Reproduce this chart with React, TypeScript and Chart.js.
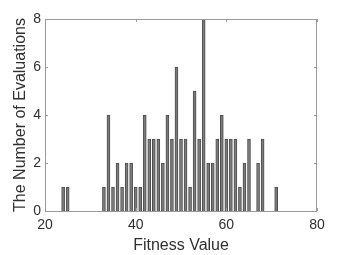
import React, { useEffect, useRef } from "react";
import { Chart, registerables } from "chart.js";

Chart.register(...registerables);

const fitnessValues = [24, 25, 33, 34, 35, 36, 37, 38, 39, 40, 41, 42, 43, 44, 45, 46, 47, 48, 49, 50, 51, 52, 53, 54, 55, 56, 57, 58, 59, 60, 61, 62, 63, 64, 65, 67, 68, 71];
const evaluationCounts = [1, 1, 1, 4, 1, 2, 1, 2, 2, 1, 1, 4, 3, 3, 3, 2, 4, 3, 6, 3, 3, 1, 5, 3, 8, 2, 2, 3, 4, 3, 3, 3, 1, 2, 3, 2, 3, 1];
const xTicks = [20, 40, 60, 80];
const yTicks = [0, 2, 4, 6, 8];

const FONT = "'Liberation Sans', Arial, Helvetica, sans-serif";
const TEXT = "#303030";
const BOX = "#9a9a9a";

const boxPlugin = {
  id: "matlabBox",
  afterDraw(chart: any) {
    const { ctx, chartArea } = chart;
    const { left, right, top, bottom } = chartArea;
    const xs = chart.scales.x;
    const ys = chart.scales.y;
    ctx.save();
    ctx.strokeStyle = BOX;
    ctx.lineWidth = 1;
    ctx.beginPath();
    ctx.rect(Math.round(left) + 0.5, Math.round(top) + 0.5, Math.round(right - left) - 1, Math.round(bottom - top));
    ctx.stroke();
    const tl = 3;
    ctx.beginPath();
    for (const v of xTicks) {
      const px = Math.round(xs.getPixelForValue(v)) + 0.5;
      ctx.moveTo(px, bottom);
      ctx.lineTo(px, bottom - tl);
      ctx.moveTo(px, top);
      ctx.lineTo(px, top + tl);
    }
    for (const v of yTicks) {
      const py = Math.round(ys.getPixelForValue(v)) + 0.5;
      ctx.moveTo(left, py);
      ctx.lineTo(left + tl, py);
      ctx.moveTo(right, py);
      ctx.lineTo(right - tl, py);
    }
    ctx.stroke();
    ctx.restore();
  },
};

export default function App() {
  const ref = useRef<HTMLCanvasElement | null>(null);
  useEffect(() => {
    document.body.style.margin = "0";
    const canvas = ref.current!;
    const chart = new Chart(canvas, {
      type: "bar",
      data: {
        datasets: [
          {
            data: fitnessValues.map((x, i) => ({ x, y: evaluationCounts[i] })),
            backgroundColor: "#7a7a7a",
            borderColor: "#4f4f4f",
            borderWidth: 1,
            barThickness: 3,
          },
        ],
      },
      options: {
        responsive: false,
        animation: false,
        events: [],
        layout: { padding: { top: 19, right: 34, left: 0, bottom: 0 } },
        plugins: { legend: { display: false }, tooltip: { enabled: false } },
        scales: {
          x: {
            type: "linear",
            min: 20,
            max: 80,
            offset: false,
            afterBuildTicks: (s: any) => {
              s.ticks = xTicks.map((v) => ({ value: v }));
            },
            afterFit: (s: any) => {
              s.height = 44;
            },
            grid: { display: false, drawTicks: false, offset: false },
            border: { display: false },
            ticks: { color: TEXT, font: { family: FONT, size: 14 }, padding: 6, maxRotation: 0 },
            title: {
              display: true,
              text: "Fitness Value",
              color: TEXT,
              font: { family: FONT, size: 16 },
              padding: { top: 0, bottom: 0 },
            },
          },
          y: {
            type: "linear",
            min: 0,
            max: 8,
            afterBuildTicks: (s: any) => {
              s.ticks = yTicks.map((v) => ({ value: v }));
            },
            afterFit: (s: any) => {
              s.width = 45;
            },
            grid: { display: false, drawTicks: false },
            border: { display: false },
            ticks: { color: TEXT, font: { family: FONT, size: 14 }, padding: 4 },
            title: {
              display: true,
              text: "The Number of Evaluations",
              color: TEXT,
              font: { family: FONT, size: 16 },
              padding: { top: 11, bottom: 0 },
            },
          },
        },
      },
      plugins: [boxPlugin],
    });
    return () => chart.destroy();
  }, []);
  return <canvas ref={ref} width={351} height={255} style={{ width: 351, height: 255, display: "block" }} />;
}
